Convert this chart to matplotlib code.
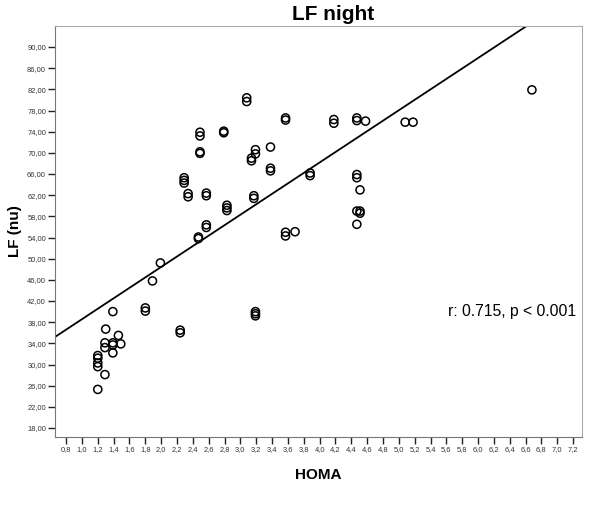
import numpy as np
import matplotlib
matplotlib.use("Agg")
import matplotlib.pyplot as plt
from matplotlib.ticker import FuncFormatter

plt.rcParams["font.family"] = ["Liberation Sans", "DejaVu Sans"]

# HOMA vs LF (nu)
homa = [
    1.20, 1.20, 1.20, 1.20, 1.20, 1.29, 1.30, 1.29, 1.29, 1.39,
    1.39, 1.39, 1.39, 1.46, 1.49, 1.80, 1.80, 1.89, 1.99, 2.24,
    2.24, 2.29, 2.29, 2.29, 2.34, 2.34, 2.47, 2.47, 2.49, 2.49,
    2.49, 2.49, 2.57, 2.57, 2.57, 2.57, 2.79, 2.79, 2.83, 2.83,
    2.83, 3.08, 3.08, 3.14, 3.14, 3.17, 3.17, 3.19, 3.19, 3.19,
    3.19, 3.19, 3.38, 3.38, 3.38, 3.57, 3.57, 3.57, 3.57, 3.69,
    3.88, 3.88, 4.18, 4.18, 4.47, 4.47, 4.58, 4.47, 4.47, 4.51,
    4.47, 4.51, 4.51, 4.47, 5.08, 5.18, 6.68,
]
lf = [
    25.3, 29.6, 30.3, 31.2, 31.7, 28.1, 36.7, 34.1, 33.2, 40.0,
    34.1, 33.7, 32.2, 35.5, 33.9, 40.7, 40.1, 45.8, 49.2, 36.5,
    36.0, 65.3, 64.8, 64.3, 62.3, 61.7, 54.1, 53.8, 73.9, 73.2,
    70.2, 69.9, 62.4, 61.9, 56.4, 55.9, 74.1, 73.8, 60.1, 59.6,
    59.1, 80.4, 79.7, 69.0, 68.5, 61.9, 61.4, 70.6, 69.8, 40.0,
    39.6, 39.2, 71.1, 67.1, 66.6, 76.6, 76.2, 54.3, 55.0, 55.1,
    66.2, 65.7, 76.3, 75.6, 76.6, 76.1, 76.0, 65.9, 65.3, 63.0,
    59.0, 59.0, 58.6, 56.5, 75.8, 75.8, 81.9,
]

# regression line
fit_slope = 9.87
fit_intercept = 28.7
annotation = "r: 0.715, p < 0.001"

x_ticks = np.round(np.arange(0.8, 7.21, 0.2), 1)
y_ticks = np.arange(18, 91, 4)

fig = plt.figure(figsize=(6.0, 5.07), dpi=100)
ax = fig.add_axes([0.0917, 0.138, 0.878, 0.811])

ax.scatter(homa, lf, s=34, facecolors="none", edgecolors="black", linewidths=1.1, zorder=3)

xlim = (0.66, 7.31)
ylim = (16.3, 94.0)
xs = np.array(xlim)
ax.plot(xs, fit_intercept + fit_slope * xs, color="black", lw=1.3, zorder=2)

ax.set_xlim(*xlim)
ax.set_ylim(*ylim)
ax.set_xticks(x_ticks)
ax.set_yticks(y_ticks)
ax.xaxis.set_major_formatter(FuncFormatter(lambda v, p: f"{v:.1f}".replace(".", ",")))
ax.yaxis.set_major_formatter(FuncFormatter(lambda v, p: f"{v:.2f}".replace(".", ",")))
ax.tick_params(axis="both", labelsize=5.4, labelcolor="#333333", colors="#222222",
               length=5, width=1, direction="out", pad=1.5)

for side in ["top", "right"]:
    ax.spines[side].set_color("#aaaaaa")
for side in ["left", "bottom"]:
    ax.spines[side].set_color("#777777")

ax.text(7.24, 40.1, annotation, ha="right", va="center", fontsize=11.3)

ax.set_title("LF night", fontsize=15, fontweight="bold", pad=4, x=0.528)
ax.set_xlabel("HOMA", fontsize=11, fontweight="bold")
ax.xaxis.set_label_coords(0.5, -0.076)
ax.set_ylabel("LF (nu)", fontsize=11, fontweight="bold")
ax.yaxis.set_label_coords(-0.062, 0.5)

fig.savefig("out.png", dpi=100)
